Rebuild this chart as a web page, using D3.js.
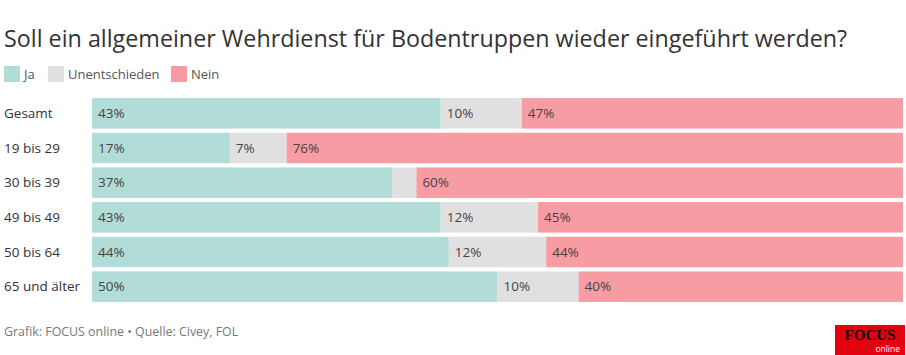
<!DOCTYPE html>
<html><head><meta charset="utf-8">
<script src="https://cdn.jsdelivr.net/npm/d3@7"></script>
<style>body{margin:0;background:#fff;font-family:"Open Sans",sans-serif;}</style>
</head><body><svg id="c" width="906" height="355"></svg>
<script>
const categories = ["Gesamt","19 bis 29","30 bis 39","49 bis 49","50 bis 64","65 und älter"];
const seriesNames = ["Ja","Unentschieden","Nein"];
const ja = [43,17,37,43,44,50];
const unentschieden = [10,7,3,12,12,10];
const nein = [47,76,60,45,44,40];
const colors = ["#b2dcd8","#e0e0e0","#f89ca4"];

const svg = d3.select("#c");
svg.append("text").attr("x",4).attr("y",47).attr("font-size",23.3).attr("fill","#333")
  .text("Soll ein allgemeiner Wehrdienst für Bodentruppen wieder eingeführt werden?");

// legend
const lg = [{x:4},{x:48},{x:171}];
seriesNames.forEach((n,i)=>{
  const g = svg.append("g").attr("transform",`translate(${lg[i].x},66)`);
  g.append("rect").attr("width",16).attr("height",16).attr("fill",colors[i]);
  g.append("text").attr("x",20).attr("y",13).attr("font-size",13).attr("fill","#555").text(n);
});

const x = d3.scaleLinear().domain([0,100]).range([92,903]);
const y = d3.scaleBand().domain(categories).range([96,304]).paddingInner(0.12).paddingOuter(0.06);

const data = categories.map((c,i)=>({cat:c, Ja:ja[i], Unentschieden:unentschieden[i], Nein:nein[i]}));
const stack = d3.stack().keys(seriesNames)(data);

stack.forEach((s,si)=>{
  const g = svg.append("g");
  g.selectAll("rect").data(s).join("rect")
    .attr("x",d=>x(d[0])).attr("width",d=>x(d[1])-x(d[0]))
    .attr("y",d=>y(d.data.cat)).attr("height",y.bandwidth())
    .attr("fill",colors[si]);
  g.selectAll("text").data(s.filter(d=>d[1]-d[0]>=5)).join("text")
    .attr("x",d=>x(d[0])+6).attr("y",d=>y(d.data.cat)+y.bandwidth()/2+4.7)
    .attr("font-size",13.5).attr("fill","#444")
    .text(d=>(d[1]-d[0])+"%");
});

svg.append("g").selectAll("text").data(categories).join("text")
  .attr("x",4).attr("y",d=>y(d)+y.bandwidth()/2+4.7)
  .attr("font-size",13.5).attr("fill","#333").text(d=>d);

svg.append("text").attr("x",4).attr("y",336).attr("font-size",12.4).attr("fill","#777")
  .text("Grafik: FOCUS online • Quelle: Civey, FOL");

// logo
const lo = svg.append("g").attr("transform","translate(835,325)");
lo.append("rect").attr("width",70).attr("height",30).attr("fill","#e3000f");
lo.append("text").attr("x",35).attr("y",15).attr("text-anchor","middle").attr("font-family","Liberation Serif,serif")
  .attr("font-weight","bold").attr("font-size",15).attr("fill","#111").text("FOCUS");
lo.append("text").attr("x",65).attr("y",27).attr("text-anchor","end").attr("font-size",8.5).attr("fill","#fff").text("online");
</script></body></html>
